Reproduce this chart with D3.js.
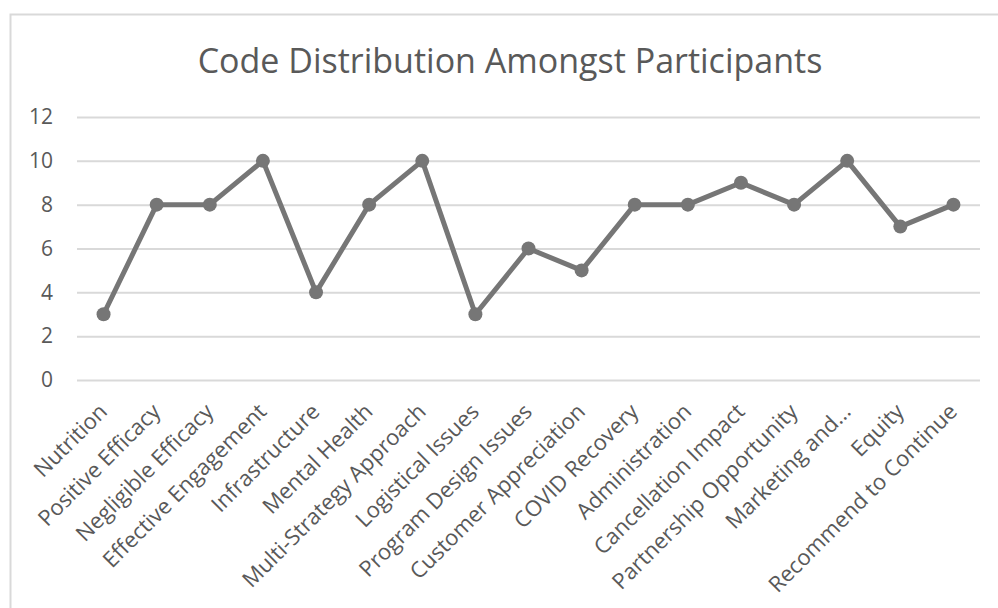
<!DOCTYPE html>
<html>
<head>
<meta charset="utf-8">
<script src="https://cdn.jsdelivr.net/npm/d3@7"></script>
<style>
  html, body { margin: 0; padding: 0; background: #fff; }
  svg { display: block; }
</style>
</head>
<body>
<svg id="chart" width="998" height="608"></svg>
<script>
// Code counts per category
const categories = [
  "Nutrition", "Positive Efficacy", "Negligible Efficacy", "Effective Engagement",
  "Infrastructure", "Mental Health", "Multi-Strategy Approach", "Logistical Issues",
  "Program Design Issues", "Customer Appreciation", "COVID Recovery", "Administration",
  "Cancellation Impact", "Partnership Opportunity", "Marketing and...", "Equity",
  "Recommend to Continue"
];
const counts = [3, 8, 8, 10, 4, 8, 10, 3, 6, 5, 8, 8, 9, 8, 10, 7, 8];
const yTicks = [0, 2, 4, 6, 8, 10, 12];
const title = "Code Distribution Amongst Participants";

const svg = d3.select("#chart");
const W = 998, H = 608;
const font = "'Open Sans', 'Noto Sans', sans-serif";

// chart frame
svg.append("rect")
  .attr("x", 10.5).attr("y", 14.5)
  .attr("width", W + 20).attr("height", H + 20)
  .attr("fill", "#fff")
  .attr("stroke", "#d9d9d9").attr("stroke-width", 2);

const plot = { left: 77, right: 980, top: 117, bottom: 380 };

const x = d3.scaleBand().domain(categories).range([plot.left, plot.right]);
const y = d3.scaleLinear().domain([0, 12]).range([plot.bottom, plot.top]);

// title
svg.append("text")
  .attr("x", 510).attr("y", 73)
  .attr("text-anchor", "middle")
  .attr("font-family", font).attr("font-size", 34)
  .attr("fill", "#595959")
  .text(title);

// gridlines + y labels
const yAxis = d3.axisLeft(y).tickValues(yTicks)
  .tickSize(-(plot.right - plot.left)).tickPadding(24);
const gy = svg.append("g")
  .attr("transform", `translate(${plot.left},0)`)
  .call(yAxis);
gy.select(".domain").remove();
gy.selectAll(".tick line").attr("stroke", "#d9d9d9").attr("stroke-width", 2);
gy.selectAll(".tick text")
  .attr("font-family", font).attr("font-size", 21).attr("fill", "#595959");

// category labels
const xAxis = d3.axisBottom(x).tickSize(0).tickPadding(0);
const gx = svg.append("g")
  .attr("transform", `translate(0,${plot.bottom})`)
  .call(xAxis);
gx.select(".domain").remove();
gx.selectAll(".tick text")
  .attr("font-family", font).attr("font-size", 22).attr("fill", "#595959")
  .attr("text-anchor", "end")
  .attr("dy", null).attr("y", 0)
  .attr("transform", "translate(5,33) rotate(-45)");

// line + markers
const color = "#767676";
const pts = categories.map((c, i) => ({ c, v: counts[i] }));
const line = d3.line()
  .x(d => x(d.c) + x.bandwidth() / 2)
  .y(d => y(d.v));
svg.append("path")
  .datum(pts)
  .attr("d", line)
  .attr("fill", "none")
  .attr("stroke", color).attr("stroke-width", 5)
  .attr("stroke-linejoin", "round");
svg.selectAll("circle.pt")
  .data(pts).join("circle")
  .attr("class", "pt")
  .attr("cx", d => x(d.c) + x.bandwidth() / 2)
  .attr("cy", d => y(d.v))
  .attr("r", 7)
  .attr("fill", color);
</script>
</body>
</html>
